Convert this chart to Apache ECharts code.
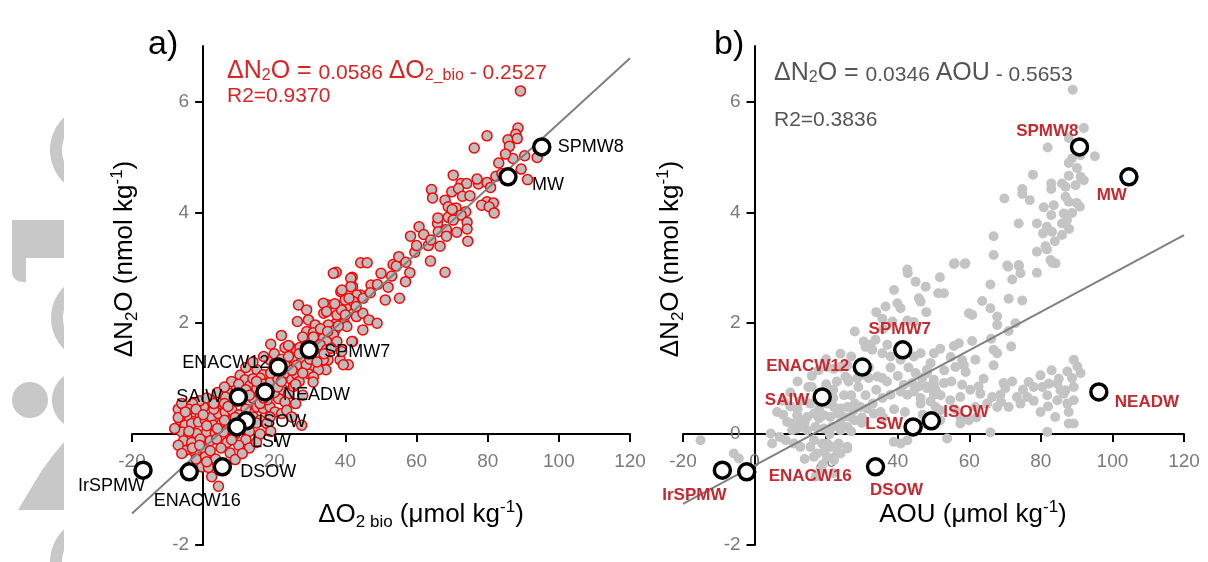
<!DOCTYPE html>
<html>
<head>
<meta charset="utf-8">
<script src="https://cdn.jsdelivr.net/npm/echarts@6/dist/echarts.min.js"></script>
<style>
  html, body { margin: 0; padding: 0; background: #fff; }
  #chart { width: 1208px; height: 562px; }
</style>
</head>
<body>
<div id="chart"></div>
<script>
// tick labels
var xTicks = [-20, 0, 20, 40, 60, 80, 100, 120];
var yTicks = [-2, 0, 2, 4, 6];

// water masses (big open circles), same dN2O in both panels
var massNames = ['SPMW8', 'MW', 'SPMW7', 'ENACW12', 'NEADW', 'SAIW', 'ISOW', 'LSW', 'DSOW', 'ENACW16', 'IrSPMW'];
var massN2O   = [5.18, 4.64, 1.52, 1.21, 0.76, 0.67, 0.24, 0.13, -0.59, -0.68, -0.65];
var massO2bio = [95.2, 85.7, 29.8, 21.1, 17.4, 9.9, 12.1, 9.5, 5.4, -3.9, -16.9];
var massAOU   = [90.8, 104.6, 41.4, 30.1, 96.2, 18.9, 49.4, 44.3, 33.8, -2.2, -9.0];

// regression lines as drawn (end points)
var fitA = [[-20, -1.43], [120, 6.78]];
var fitB = [[-20, -1.26], [120, 3.59]];

// panel a samples: [dO2bio, dN2O]
var obsA = [
  [89.2,6.19],[88.5,5.52],[79.8,5.38],[87.9,5.41],[85.7,5.31],[88.3,5.33],[86.1,5.19],[76.2,5.16],[90.4,5.02],[93.9,4.99],
  [87.1,4.97],[83.1,4.89],[89.4,4.78],[91.2,4.59],[82.3,4.65],[70.3,4.67],[72.5,4.52],[74.1,4.52],[77.4,4.51],[79.8,4.54],
  [80.8,4.45],[64.2,4.41],[64.5,4.26],[69.9,4.37],[71.8,4.43],[72.9,4.29],[68.0,4.22],[68.9,4.10],[71.1,4.08],[79.8,4.19],
  [78.3,4.13],[81.6,4.17],[80.4,4.10],[81.8,3.99],[73.8,4.01],[72.5,3.95],[68.9,3.91],[70.3,3.86],[65.9,3.80],[60.7,3.74],
  [74.2,3.82],[74.2,3.70],[66.1,3.65],[68.4,3.69],[71.3,3.64],[58.3,3.57],[68.4,3.57],[74.4,3.48],[63.3,3.40],[66.6,3.39],
  [59.5,3.28],[63.9,3.12],[44.3,3.09],[46.1,3.09],[53.4,3.06],[54.3,3.03],[37.4,2.92],[41.9,2.83],[58.1,2.91],[68.0,2.92],
  [42.0,2.66],[47.2,2.69],[51.2,2.42],[55.2,2.45],[56.9,2.75],[44.3,2.51],[43.1,2.12],[44.9,2.18],[46.6,2.06],[48.9,2.00],
  [44.9,1.88],[42.0,1.67],[40.3,2.30],[38.5,2.18],[35.1,2.33],[33.9,2.18],[37.4,2.00],[39.7,2.00],[36.2,1.70],[35.1,1.34],
  [31.6,1.22],[34.5,1.16],[38.5,1.34],[40.8,1.25],
  [36.6,2.90],[41.5,2.81],[41.5,2.66],[38.7,2.57],[43.2,2.51],[39.9,2.42],[42.2,2.39],[33.8,2.36],[34.7,2.21],[26.8,2.33],
  [29.1,2.24],[26.5,2.03],[29.6,2.06],[31.5,1.97],[37.6,2.15],[38.9,2.24],[35.2,1.97],[37.1,1.88],[40.4,1.94],[29.1,1.85],
  [31.0,1.83],[36.6,1.79],[33.8,1.73],[34.7,1.67],[37.6,1.67],[41.8,1.67],[23.0,1.56],[24.9,1.55],[26.3,1.51],[27.2,1.56],
  [32.9,1.61],[34.7,1.52],[38.9,1.49],[31.9,1.40],[33.8,1.34],[25.8,1.34],[27.7,1.31],[31.0,1.22],[32.4,1.16],[29.6,1.09],
  [31.0,1.03],[39.4,1.25],[24.4,1.21],[26.3,1.24],[18.8,1.34],[20.2,1.28],[15.1,1.16],[16.9,1.07],[16.0,1.01],[23.5,1.10],
  [24.9,0.98],[26.3,1.07],[10.4,1.06],[11.8,0.98],[13.2,0.88],[15.1,0.82],[20.7,0.86],[22.6,0.79],[24.0,0.73],[25.4,0.86],
  [21.2,0.64],[23.0,0.58],[6.7,0.82],[7.6,0.73],[6.2,0.67],[2.0,0.62],[3.8,0.58],[0.1,0.49],[13.2,0.55],[15.1,0.49],
  [16.9,0.46],[18.8,0.49],[20.2,0.40],[22.1,0.37],[18.8,0.31],[14.1,0.31],[16.0,0.25],[17.9,0.19],[23.5,0.43],[24.9,0.31],
  [-2.7,0.40],[-0.8,0.34],[-4.6,0.31],[-6.5,0.25],[-5.1,0.16],[-3.2,0.19],[-1.3,0.22],[0.6,0.25],[2.4,0.31],[4.3,0.37],
  [6.2,0.40],[8.1,0.43],[2.9,0.16],[5.2,0.19],[7.1,0.10],[-6.0,0.04],[-4.1,-0.02],[-1.8,0.01],[1.0,0.04],[3.4,0.02],
  [5.7,0.04],[-5.5,-0.12],[-3.2,-0.15],[-0.8,-0.09],[2.0,-0.12],[3.8,-0.09],[6.7,-0.15],[-5.1,-0.30],[-2.2,-0.34],[0.6,-0.28],
  [7.6,-0.34],[9.0,-0.46],[4.3,-0.94],[2.4,-0.77],[27.7,0.16],[30.9,0.94],[-0.4,-0.59],[0.6,-0.41],[3.5,-0.45],[1.5,-0.60],
  [9.0,0.60],[11.0,0.70],[12.0,0.45],[10.0,0.35],[8.0,0.25],[11.0,0.15],[13.0,0.05],[9.0,0.00],[12.0,-0.10],[10.0,-0.20],
  [14.0,0.65],[16.0,0.72],[18.0,0.62],[17.0,0.90],[19.0,0.95],[21.0,1.00],[22.0,1.15],[20.0,0.75],[14.0,1.00],[12.0,1.20],
  [14.0,1.30],[17.0,1.40],[20.0,1.45],[22.0,1.35],[6.0,0.55],[4.0,0.75],[8.0,0.95],[3.0,0.45],[-1.0,0.60],[-3.0,0.55],
  [1.0,0.65],[6.0,0.85],[-7.0,0.45],[-8.0,0.10],[-7.0,-0.20],[-6.0,-0.35],[-4.0,0.45],[26.0,0.55],[28.0,0.70],[27.0,0.95],
  [29.0,1.25],[30.0,1.35],[24.0,1.60],[28.0,1.75],[22.0,1.78],[19.0,1.62],[15.0,0.20],[19.0,0.05],[16.0,0.00],[13.0,-0.25],
  [11.0,-0.35],[15.0,-0.15],
  [10.0,0.90],[12.0,0.80],[13.0,0.70],[15.0,0.95],[16.0,0.55],[17.0,0.65],[18.0,0.80],[19.0,1.10],[20.0,1.20],[21.0,0.85],
  [22.0,0.95],[23.0,1.25],[24.0,1.40],[25.0,1.15],[26.0,0.90],[27.0,1.45],[28.0,1.10],[29.0,1.60],[30.0,1.50],[31.0,1.75],
  [32.0,1.30],[33.0,1.90],[34.0,1.45],[35.0,1.85],[36.0,1.55],[37.0,2.35],[38.0,1.95],[39.0,2.60],[40.0,2.15],[41.0,2.45],
  [43.0,2.30],[45.0,2.45],[47.0,2.55],[49.0,2.70],[50.0,2.90],[52.0,2.65],[53.0,2.85],[55.0,3.20],[57.0,3.10],[60.0,3.40],
  [62.0,3.60],[64.0,3.50],[66.0,3.90],[70.0,4.05],[75.0,4.30],[77.0,4.60],[84.0,4.70],[85.0,5.05],
  [-7.0,0.30],[-6.0,0.55],[-5.0,0.40],[-4.0,0.05],[-3.0,-0.25],[-2.0,0.45],[-1.0,-0.20],[0.0,0.35],[1.0,0.15],[2.0,-0.30],
  [3.0,0.55],[4.0,0.10],[5.0,-0.25],[6.0,0.25],[7.0,0.50],[8.0,-0.10],[9.0,0.30],[-2.0,-0.45],[1.0,-0.50]
];

// panel b samples: [AOU, dN2O]
var obsB = [
  [88.9,6.21],[92.0,5.52],[87.8,5.34],[81.9,5.17],[95.1,5.01],[91.1,5.03],[88.7,4.97],[87.8,4.89],[90.1,4.80],[77.8,4.68],
  [87.8,4.66],[91.1,4.64],[92.0,4.58],[82.9,4.52],[85.9,4.52],[86.9,4.46],[89.7,4.49],[82.9,4.42],[74.8,4.42],[74.8,4.33],
  [76.9,4.22],[69.8,4.25],[86.9,4.28],[87.8,4.19],[90.0,4.17],[90.9,4.10],[80.8,4.09],[83.6,4.13],[82.9,3.95],[86.4,3.98],
  [88.7,3.99],[87.3,3.86],[73.8,3.80],[78.9,3.80],[81.7,3.74],[83.1,3.65],[80.6,3.62],[85.9,3.80],[85.9,3.59],[87.9,3.70],
  [66.8,3.57],[83.9,3.48],[81.3,3.39],[81.7,3.33],[78.9,3.29],[66.8,3.23],[55.9,3.08],[58.9,3.08],[70.6,3.04],[73.8,3.05],
  [82.7,3.14],[84.1,3.08],[42.7,2.97],
  [42.8,2.90],[45.9,2.45],[46.4,2.39],[51.3,2.54],[36.6,2.30],[39.9,2.36],[40.8,2.27],[35.7,2.08],[38.5,2.03],[42.7,2.05],
  [44.5,2.02],[30.5,1.67],[32.4,1.61],[33.8,1.70],[31.0,1.57],[32.9,1.52],[35.7,1.46],[38.0,1.40],[40.8,1.34],[37.1,1.61],
  [44.5,1.40],[46.4,1.46],[49.2,1.28],[50.1,1.46],[48.2,1.16],[17.9,1.15],[20.3,1.21],[22.2,1.18],[24.0,1.21],[25.9,1.24],
  [25.4,1.04],[26.3,0.95],[28.7,1.01],[30.5,1.07],[31.9,1.01],[34.3,1.04],[35.7,1.01],[35.7,0.65],[38.0,0.71],[40.8,0.77],
  [42.7,0.71],[44.5,0.77],[41.7,0.89],[44.0,0.92],[45.9,0.86],[48.2,0.83],[50.1,0.89],[46.4,0.65],[49.2,0.59],[50.1,0.71],
  [6.3,0.40],[10.5,0.19],[11.9,0.10],[12.8,0.25],[14.7,0.31],[16.6,0.37],[18.0,0.28],[19.4,0.34],[21.2,0.31],[23.1,0.37],
  [24.9,0.31],[26.8,0.31],[15.6,0.55],[17.5,0.61],[20.3,0.55],[22.2,0.49],[24.0,0.46],[25.9,0.49],[27.7,0.43],[29.6,0.49],
  [31.5,0.46],[33.3,0.37],[35.2,0.40],[12.8,0.13],[14.7,0.07],[17.0,0.13],[19.4,0.10],[21.7,0.13],[24.0,0.07],[25.9,0.13],
  [4.5,0.01],[4.9,-0.17],[8.7,-0.11],[11.0,-0.17],[12.8,-0.23],[16.6,-0.11],[18.9,-0.17],[21.2,-0.23],[23.5,-0.17],[25.9,-0.23],
  [17.5,-0.35],[20.3,-0.41],[23.1,-0.35],[38.9,-0.14],[40.8,-0.17],[-5.8,-0.35],[-4.4,-0.44],[-15.1,-0.11],
  [9.1,0.22],[11.9,0.34],[10.5,0.07],[17.0,-0.77],[18.4,-0.65],[16.6,-0.41],[19.4,-0.32],[22.2,-0.47],[24.0,-0.35],[25.9,-0.26],
  [15.6,-0.23],[20.3,-0.17],[23.1,-0.20],[42.7,-0.11],[53.8,-0.08],
  [55.7,3.07],[58.7,3.07],[70.9,3.02],[73.9,3.03],[74.3,2.90],[78.9,2.91],[72.0,2.79],[83.2,3.09],[51.8,2.83],[47.8,2.66],
  [52.9,2.54],[65.9,2.70],[63.6,2.40],[65.9,2.27],[71.0,2.44],[74.8,2.41],[59.9,2.18],[60.8,2.15],[67.8,2.12],[67.8,1.97],
  [71.0,1.86],[72.9,2.00],[60.8,1.68],[55.7,1.59],[57.1,1.64],[51.9,1.54],[66.8,1.52],[67.8,1.46],[71.7,1.58],[66.1,1.72],
  [54.8,1.39],[58.0,1.33],[61.7,1.34],[56.1,1.21],[58.5,1.24],[59.0,1.12],[66.8,1.24],[48.2,1.10],[46.8,1.01],[50.1,0.98],
  [48.2,0.86],[50.6,0.80],[52.9,0.92],[58.0,0.89],[60.3,0.80],[62.6,0.86],[69.6,0.92],[70.1,0.83],[68.7,0.71],[66.4,0.67],
  [63.1,0.73],[68.9,0.58],[71.0,0.49],[73.3,0.67],[74.3,0.55],[76.2,0.67],[67.8,0.49],[65.0,0.55],[76.6,0.94],[78.0,0.85],
  [79.9,1.06],[80.4,0.85],[82.2,0.91],[81.8,0.70],[84.6,0.91],[85.5,0.79],[84.6,0.61],[86.4,0.73],[87.4,0.55],[87.8,0.40],
  [89.2,1.34],[90.2,1.22],[91.1,1.10],[88.7,1.01],[87.4,1.13],[89.2,0.85],[89.2,0.61],[89.2,0.19],[87.8,0.19],[84.0,0.31],
  [86.9,0.79],[79.9,0.40],[81.8,0.04],[65.9,0.03],[57.5,0.31],[51.9,0.43],[54.7,0.61],[57.5,0.67],[61.7,0.49],[50.6,0.49],
  [49.2,0.31],[47.3,0.19],[46.4,0.55],[51.9,0.25],[57.5,0.19],[59.9,0.25],
  [13.0,0.60],[15.0,0.85],[20.0,0.90],[22.0,0.80],[27.0,0.70],[28.0,0.25],[30.0,0.20],[10.0,0.50],[8.0,0.35],
  [8.0,0.60],[10.0,0.75],[12.0,0.45],[14.0,0.20],[16.0,0.85],[18.0,0.45],[19.0,0.75],[21.0,0.00],[22.0,0.65],[23.0,0.95],
  [24.0,0.20],[25.0,0.70],[26.0,1.00],[27.0,0.05],[28.0,0.55],[29.0,0.85],[30.0,0.30],[31.0,0.70],[32.0,1.20],[33.0,0.55],
  [34.0,0.80],[36.0,0.30],[37.0,0.95],[38.0,1.20],[39.0,0.45],[40.0,1.05],[42.0,0.40],[43.0,1.20],[45.0,1.10],[47.0,0.35],
  [52.0,0.70],[53.0,1.15],[55.0,0.95],[56.0,0.45],[62.0,0.30],[64.0,1.00],[72.0,0.95],[75.0,0.80],[78.0,0.60],[82.0,0.50],
  [83.0,1.15],[85.0,1.00],[7.0,-0.05],[14.0,-0.45],[19.0,-0.55],[22.0,-0.70],[12.0,0.95],[16.0,1.05],[20.0,1.35],[24.0,1.45],
  [27.0,1.40],[28.0,1.85],[34.0,2.20],[36.0,1.90],[39.0,2.60],[45.0,2.75],[48.0,2.20]
];

// label placement for the water mass names: [align, dx, dy]
var placeA = {
  SPMW8: ['left', 16, 0], MW: ['left', 24, 8], SPMW7: ['left', 15, 2], ENACW12: ['right', -9, -4],
  NEADW: ['left', 18, 3], SAIW: ['right', -16, 0], ISOW: ['left', 12, 1], LSW: ['left', 15, 15],
  DSOW: ['left', 18, 5], ENACW16: ['center', 8, 29], IrSPMW: ['right', 2, 16]
};
var placeB = {
  SPMW8: ['right', -1, -16], MW: ['right', -2, 18], SPMW7: ['center', -3, -21], ENACW12: ['right', -13, -1],
  NEADW: ['left', 16, 10], SAIW: ['right', -13, 3], ISOW: ['left', 12, -8], LSW: ['right', -10, -3],
  DSOW: ['center', 21, 23], ENACW16: ['left', 22, 4], IrSPMW: ['center', -28, 25]
};

var FONT = '"Liberation Sans", Arial, sans-serif';
var RED = '#dd2222';
var LABEL_RED = '#c8282e';

// grid geometry (pixels); the axes cross at zero
var GRID_TOP = 46, GRID_H = 499;
var gridA = { left: 132, width: 498 };
var gridB = { left: 683, width: 501 };

function massData(xs, place, labelStyle) {
  return massNames.map(function (n, i) {
    var p = place[n];
    return {
      name: n,
      value: [xs[i], massN2O[i]],
      label: Object.assign({
        show: true, position: 'inside', formatter: '{b}',
        align: p[0], verticalAlign: 'middle', offset: [p[1], p[2]]
      }, labelStyle)
    };
  });
}

function xAxisCfg(gi) {
  // move the bottom axis up to y = 0
  var off = -GRID_H * 2 / 9;
  return {
    gridIndex: gi, type: 'value', min: -20, max: 120, interval: 20,
    position: 'bottom', offset: off,
    axisLine: { onZero: false, lineStyle: { color: '#000', width: 2 } },
    axisTick: { length: 8, lineStyle: { color: '#000', width: 2 }, customValues: xTicks },
    axisLabel: { color: '#7a7a7a', fontSize: 19, margin: 18, fontFamily: FONT, customValues: xTicks },
    splitLine: { show: false }
  };
}
function yAxisCfg(gi, width) {
  // move the left axis right to x = 0
  var off = -width * 20 / 140;
  return {
    gridIndex: gi, type: 'value', min: -2, max: 7, interval: 2,
    position: 'left', offset: off,
    axisLine: { onZero: false, lineStyle: { color: '#000', width: 2 } },
    axisTick: { length: 8, lineStyle: { color: '#000', width: 2 }, customValues: yTicks },
    axisLabel: { color: '#7a7a7a', fontSize: 19, margin: 14, fontFamily: FONT, customValues: yTicks },
    splitLine: { show: false }
  };
}

// clipped ring polygon for the grey page decoration on the left edge
function ringClip(cx, cy, r, r0, xMax) {
  var pts = [], n = 30, i, a;
  var to = Math.acos((xMax - cx) / r);
  for (i = 0; i <= n; i++) {
    a = to + (2 * Math.PI - 2 * to) * i / n;
    pts.push([cx + r * Math.cos(a), cy + r * Math.sin(a)]);
  }
  if (r0 > 0 && xMax > cx - r0) {
    var ti = Math.acos((xMax - cx) / r0);
    for (i = n; i >= 0; i--) {
      a = ti + (2 * Math.PI - 2 * ti) * i / n;
      pts.push([cx + r0 * Math.cos(a), cy + r0 * Math.sin(a)]);
    }
  }
  return pts;
}

var GREY = '#c8c8c8';
var EDGE = 64;
var titleRich = {
  b: { fontSize: 26, lineHeight: 32, fill: '#000', fontFamily: FONT },
  s: { fontSize: 17, lineHeight: 17, verticalAlign: 'bottom', fill: '#000', fontFamily: FONT },
  p: { fontSize: 17, lineHeight: 17, verticalAlign: 'top', fill: '#000', fontFamily: FONT }
};
function eqRich(color) {
  return {
    b: { fontSize: 25, lineHeight: 26, fill: color, fontFamily: FONT },
    n: { fontSize: 21, lineHeight: 21, verticalAlign: 'bottom', fill: color, fontFamily: FONT },
    s: { fontSize: 16, lineHeight: 16, verticalAlign: 'bottom', fill: color, fontFamily: FONT }
  };
}

var graphics = [
  // grey decoration cut by the left page edge
  { type: 'polygon', silent: true, z: -10, shape: { points: ringClip(95, 150, 45, 33, EDGE) }, style: { fill: GREY } },
  { type: 'rect', silent: true, z: -10, shape: { x: 12, y: 220, width: EDGE - 12, height: 38 }, style: { fill: GREY } },
  { type: 'rect', silent: true, z: -10, shape: { x: 12, y: 250, width: 14, height: 32, r: [0, 0, 0, 10] }, style: { fill: GREY } },
  { type: 'polygon', silent: true, z: -10, shape: { points: ringClip(95, 318, 44, 32, EDGE) }, style: { fill: GREY } },
  { type: 'circle', silent: true, z: -10, shape: { cx: 30, cy: 400, r: 18 }, style: { fill: GREY } },
  { type: 'polygon', silent: true, z: -10, shape: { points: ringClip(82, 400, 30, 0, EDGE) }, style: { fill: GREY } },
  { type: 'polygon', silent: true, z: -10, shape: { points: [[EDGE, 442], [EDGE, 510], [18, 510], [30, 490], [42, 470], [54, 454]] }, style: { fill: GREY } },
  { type: 'polygon', silent: true, z: -10, shape: { points: ringClip(95, 562, 45, 33, EDGE) }, style: { fill: GREY } },

  // panel letters
  { type: 'text', x: 148, y: 45, style: { text: 'a)', fontSize: 34, fontFamily: FONT, fill: '#000', verticalAlign: 'middle' } },
  { type: 'text', x: 714, y: 45, style: { text: 'b)', fontSize: 34, fontFamily: FONT, fill: '#000', verticalAlign: 'middle' } },

  // equations
  { type: 'text', x: 227, y: 71, style: {
      text: '{b|ΔN}{s|2}{b|O = }{n|0.0586 }{b|ΔO}{s|2_bio}{n| - 0.2527}',
      rich: eqRich(RED), verticalAlign: 'middle', align: 'left' } },
  { type: 'text', x: 227, y: 96, style: { text: 'R2=0.9370', fontSize: 21, fontFamily: FONT, fill: RED, verticalAlign: 'middle' } },
  { type: 'text', x: 774, y: 73, style: {
      text: '{b|ΔN}{s|2}{b|O = }{n|0.0346 }{b|AOU}{n| - 0.5653}',
      rich: eqRich('#555555'), verticalAlign: 'middle', align: 'left' } },
  { type: 'text', x: 774, y: 120, style: { text: 'R2=0.3836', fontSize: 21, fontFamily: FONT, fill: '#555555', verticalAlign: 'middle' } },

  // axis titles
  { type: 'text', x: 125, y: 259, rotation: Math.PI / 2, style: {
      text: '{b|ΔN}{s|2}{b|O (nmol kg}{p|-1}{b|)}', rich: titleRich, align: 'center', verticalAlign: 'middle' } },
  { type: 'text', x: 671, y: 259, rotation: Math.PI / 2, style: {
      text: '{b|ΔN}{s|2}{b|O (nmol kg}{p|-1}{b|)}', rich: titleRich, align: 'center', verticalAlign: 'middle' } },
  { type: 'text', x: 421, y: 515, style: {
      text: '{b|ΔO}{s|2 bio}{b| (μmol kg}{p|-1}{b|)}', rich: titleRich, align: 'center', verticalAlign: 'middle' } },
  { type: 'text', x: 973, y: 515, style: {
      text: '{b|AOU (μmol kg}{p|-1}{b|)}', rich: titleRich, align: 'center', verticalAlign: 'middle' } }
];

var option = {
  animation: false,
  textStyle: { fontFamily: FONT },
  grid: [
    { left: gridA.left, top: GRID_TOP, width: gridA.width, height: GRID_H, outerBoundsMode: 'none', containLabel: false },
    { left: gridB.left, top: GRID_TOP, width: gridB.width, height: GRID_H, outerBoundsMode: 'none', containLabel: false }
  ],
  xAxis: [xAxisCfg(0), xAxisCfg(1)],
  yAxis: [yAxisCfg(0, gridA.width), yAxisCfg(1, gridB.width)],
  graphic: graphics,
  series: [
    {
      type: 'scatter', xAxisIndex: 0, yAxisIndex: 0, z: 2,
      symbolSize: 10,
      itemStyle: { color: '#bdbdbd', borderColor: '#ff0000', borderWidth: 1.5, opacity: 1 },
      data: obsA
    },
    {
      type: 'line', xAxisIndex: 0, yAxisIndex: 0, z: 3,
      symbol: 'none', lineStyle: { color: '#808080', width: 2 },
      data: fitA
    },
    {
      type: 'scatter', xAxisIndex: 0, yAxisIndex: 0, z: 4,
      symbolSize: 16,
      itemStyle: { color: '#fff', borderColor: '#000', borderWidth: 3.5, opacity: 1 },
      data: massData(massO2bio, placeA, { color: '#000', fontSize: 18, fontFamily: FONT })
    },
    {
      type: 'scatter', xAxisIndex: 1, yAxisIndex: 1, z: 2,
      symbolSize: 10,
      itemStyle: { color: '#c4c4c4', opacity: 1 },
      data: obsB
    },
    {
      type: 'line', xAxisIndex: 1, yAxisIndex: 1, z: 3,
      symbol: 'none', lineStyle: { color: '#808080', width: 2 },
      data: fitB
    },
    {
      type: 'scatter', xAxisIndex: 1, yAxisIndex: 1, z: 4,
      symbolSize: 16,
      itemStyle: { color: '#fff', borderColor: '#000', borderWidth: 3.5, opacity: 1 },
      data: massData(massAOU, placeB, { color: LABEL_RED, fontSize: 17, fontWeight: 'bold', fontFamily: FONT })
    }
  ]
};

var myChart = echarts.init(document.getElementById('chart'));
myChart.setOption(option);
</script>
</body>
</html>
